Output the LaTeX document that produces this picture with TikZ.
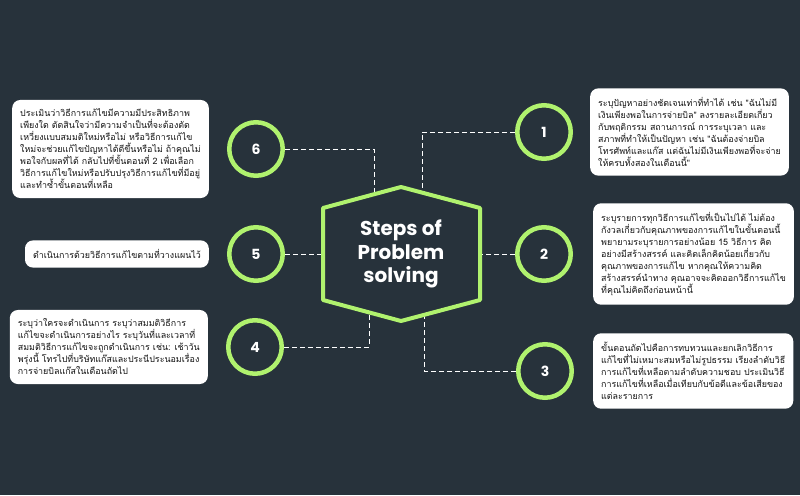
\documentclass[tikz,border=0pt]{standalone}
\usepackage{fontspec}
\setmainfont{Poppins}
\newfontfamily\thaifont[Script=Thai]{Loma}
\usepackage{tikz}
\usetikzlibrary{positioning}

\definecolor{bgslate}{RGB}{39,50,59}
\definecolor{limegreen}{RGB}{176,242,110}
\definecolor{boxtext}{RGB}{20,20,20}

\begin{document}
\begin{tikzpicture}[x=1pt, y=-1pt,
    stepcircle/.style={circle, draw=limegreen, line width=4.5pt, minimum size=53.5pt, inner sep=0pt,
        text=white, font=\bfseries\fontsize{14}{16}\selectfont},
    stepbox/.style={fill=white, rounded corners=8pt, inner xsep=8pt, inner ysep=9pt, align=left,
        text=boxtext, font=\thaifont\fontsize{8.9}{12}\selectfont},
    link/.style={draw=white, line width=0.8pt, dash pattern=on 5pt off 3pt}]

    % Background
    \fill[bgslate] (0,0) rectangle (800,495);
    \useasboundingbox (0,0) rectangle (800,495);

    % Corners of the hexagon
    \coordinate (hexT)  at (401,187);
    \coordinate (hexTR) at (480,208);
    \coordinate (hexBR) at (480,300);
    \coordinate (hexB)  at (401,321);
    \coordinate (hexBL) at (323,300);
    \coordinate (hexTL) at (323,208);

    % Where the links meet the hexagon
    \coordinate (hex1) at (422,192.6);
    \coordinate (hex2) at (480,254);
    \coordinate (hex3) at (424,314.9);
    \coordinate (hex4) at (369,312.4);
    \coordinate (hex5) at (323,254);
    \coordinate (hex6) at (374,194.3);

    % Step circles
    \node[stepcircle] (c1) at (544,132) {1};
    \node[stepcircle] (c2) at (544,254) {2};
    \node[stepcircle] (c3) at (545,371) {3};
    \node[stepcircle] (c4) at (255,347) {4};
    \node[stepcircle] (c5) at (256,254) {5};
    \node[stepcircle] (c6) at (256,149) {6};

    % Dashed links
    \draw[link] (c1.west) -| (hex1);
    \draw[link] (c2.west) -- (hex2);
    \draw[link] (c3.west) -| (hex3);
    \draw[link] (c4.east) -| (hex4);
    \draw[link] (c5.east) -- (hex5);
    \draw[link] (c6.east) -| (hex6);

    % Centre hexagon
    \draw[limegreen, line width=4pt, line join=round]
        (hexT) -- (hexTR) -- (hexBR) -- (hexB) -- (hexBL) -- (hexTL) -- cycle;
    \node[text=white, align=center, font=\bfseries\fontsize{20}{23.5}\selectfont] (title) at (401,254)
        {Steps of\\Problem\\solving};

    % Text boxes
    \node[stepbox, right=17pt of c1] (box1) {ระบุปัญหาอย่างชัดเจนเท่าที่ทำได้ เช่น "ฉันไม่มี\\
        เงินเพียงพอในการจ่ายบิล" ลงรายละเอียดเกี่ยว\\
        กับพฤติกรรม สถานการณ์ การระบุเวลา และ\\
        สภาพที่ทำให้เป็นปัญหา เช่น "ฉันต้องจ่ายบิล\\
        โทรศัพท์และแก๊ส แต่ฉันไม่มีเงินเพียงพอที่จะจ่าย\\
        ให้ครบทั้งสองในเดือนนี้"};
    \node[stepbox, right=20pt of c2] (box2) {ระบุรายการทุกวิธีการแก้ไขที่เป็นไปได้ ไม่ต้อง\\
        กังวลเกี่ยวกับคุณภาพของการแก้ไขในขั้นตอนนี้\\
        พยายามระบุรายการอย่างน้อย 15 วิธีการ คิด\\
        อย่างมีสร้างสรรค์ และคิดเล็กคิดน้อยเกี่ยวกับ\\
        คุณภาพของการแก้ไข หากคุณให้ความคิด\\
        สร้างสรรค์นำทาง คุณอาจจะคิดออกวิธีการแก้ไข\\
        ที่คุณไม่คิดถึงก่อนหน้านี้};
    \node[stepbox, right=19pt of c3] (box3) {ขั้นตอนถัดไปคือการทบทวนและยกเลิกวิธีการ\\
        แก้ไขที่ไม่เหมาะสมหรือไม่รูปธรรม เรียงลำดับวิธี\\
        การแก้ไขที่เหลือตามลำดับความชอบ ประเมินวิธี\\
        การแก้ไขที่เหลือเมื่อเทียบกับข้อดีและข้อเสียของ\\
        แต่ละรายการ};
    \node[stepbox, left=18pt of c4] (box4) {ระบุว่าใครจะดำเนินการ ระบุว่าสมมติวิธีการ\\
        แก้ไขจะดำเนินการอย่างไร ระบุวันที่และเวลาที่\\
        สมมติวิธีการแก้ไขจะถูกดำเนินการ เช่น: เช้าวัน\\
        พรุ่งนี้ โทรไปที่บริษัทแก๊สและประนีประนอมเรื่อง\\
        การจ่ายบิลแก๊สในเดือนถัดไป};
    \node[stepbox, left=18pt of c5] (box5) {ดำเนินการด้วยวิธีการแก้ไขตามที่วางแผนไว้};
    \node[stepbox, left=18pt of c6] (box6) {ประเมินว่าวิธีการแก้ไขมีความมีประสิทธิภาพ\\
        เพียงใด ตัดสินใจว่ามีความจำเป็นที่จะต้องตัด\\
        เหวี่ยงแบบสมมติใหม่หรือไม่ หรือวิธีการแก้ไข\\
        ใหม่จะช่วยแก้ไขปัญหาได้ดีขึ้นหรือไม่ ถ้าคุณไม่\\
        พอใจกับผลที่ได้ กลับไปที่ขั้นตอนที่ 2 เพื่อเลือก\\
        วิธีการแก้ไขใหม่หรือปรับปรุงวิธีการแก้ไขที่มีอยู่\\
        และทำซ้ำขั้นตอนที่เหลือ};
\end{tikzpicture}
\end{document}
